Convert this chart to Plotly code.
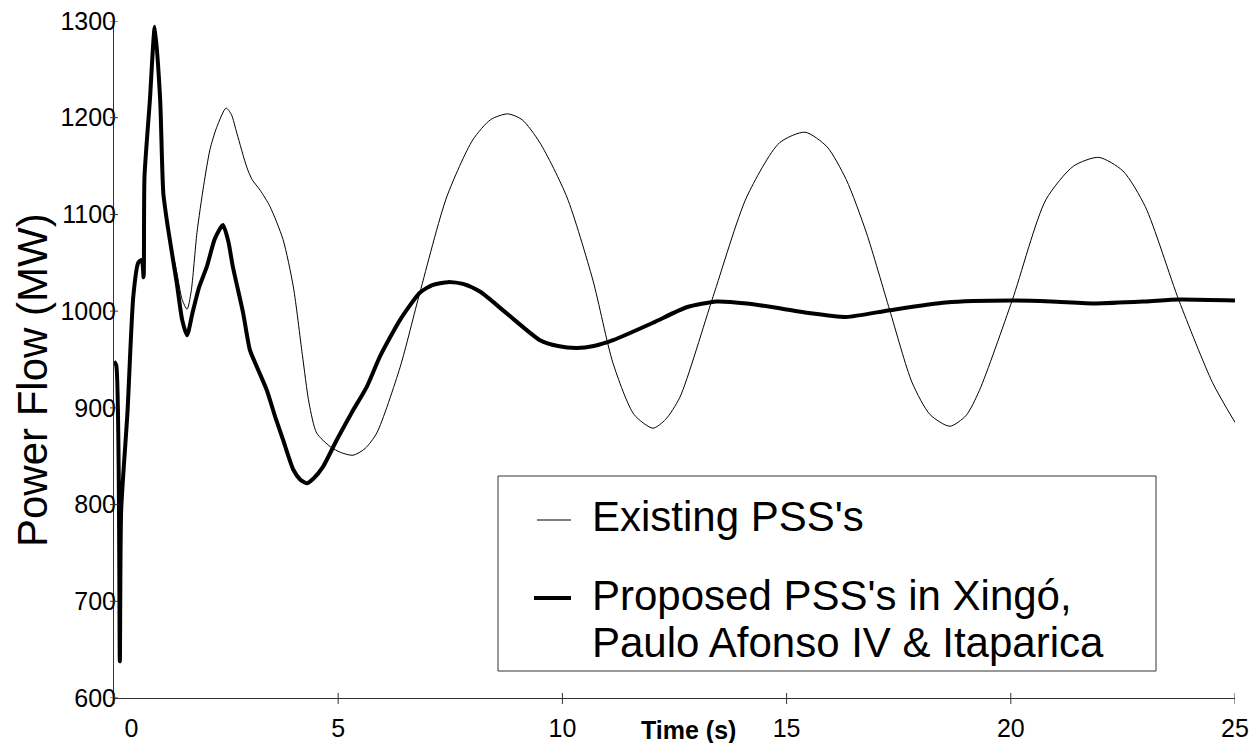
import plotly.graph_objects as go

# ---------------- data ----------------
series_names = ["Existing PSS's", "Proposed PSS's in Xingó,<br>Paulo Afonso IV & Itaparica"]

t_existing = [0.00, 0.05, 0.13, 0.16, 0.30, 0.43, 0.54, 0.62, 0.66, 0.68, 0.80, 0.91, 1.03, 1.10, 1.20,
              1.40, 1.52, 1.63, 1.72, 1.85, 2.00, 2.14, 2.29, 2.50, 2.62, 2.74, 2.96, 3.08, 3.26, 3.48,
              3.77, 4.00, 4.20, 4.35, 4.52, 4.82, 5.05, 5.33, 5.60, 5.86, 6.38, 6.82, 7.42, 8.00, 8.40,
              8.78, 9.10, 9.50, 10.10, 10.68, 11.13, 11.60, 12.02, 12.30, 12.62, 13.36, 14.11, 14.84, 15.41, 15.90,
              16.33, 16.78, 17.30, 17.80, 18.20, 18.64, 19.00, 19.30, 20.03, 20.78, 21.40, 21.96, 22.50, 23.00, 23.75,
              24.50, 25.00]
p_existing = [948, 944, 638, 794, 895, 1015, 1050, 1053, 1035, 1139, 1218, 1294, 1218, 1122, 1087,
              1040, 1012, 1002, 1020, 1081, 1130, 1167, 1190, 1210, 1203, 1184, 1149, 1136, 1125, 1108,
              1074, 1025, 955, 905, 874, 860, 854, 851, 858, 874, 942, 1019, 1118, 1177, 1198,
              1204, 1198, 1174, 1118, 1032, 946, 893, 879, 888, 911, 1015, 1118, 1174, 1185, 1170,
              1136, 1081, 1001, 926, 893, 881, 892, 918, 1011, 1115, 1150, 1159, 1145, 1108, 1011,
              926, 885]

t_proposed = [0.00, 0.05, 0.13, 0.16, 0.30, 0.43, 0.54, 0.62, 0.66, 0.68, 0.80, 0.91, 1.03, 1.10, 1.20,
              1.40, 1.52, 1.63, 1.75, 1.90, 2.07, 2.25, 2.43, 2.55, 2.65, 2.88, 3.03, 3.19, 3.41, 3.60,
              3.77, 4.00, 4.15, 4.30, 4.45, 4.66, 4.97, 5.30, 5.64, 5.93, 6.38, 6.82, 7.10, 7.45, 7.80,
              8.17, 8.75, 9.50, 9.90, 10.32, 10.70, 11.13, 12.02, 12.77, 13.44, 14.11, 14.84, 15.50, 16.33, 17.30,
              18.55, 20.00, 20.90, 21.90, 23.00, 23.75, 25.00]
p_proposed = [948, 944, 638, 794, 895, 1015, 1050, 1053, 1035, 1139, 1218, 1294, 1218, 1122, 1087,
              1029, 991, 975, 998, 1025, 1046, 1075, 1089, 1072, 1046, 998, 960, 942, 918, 890,
              867, 836, 826, 822, 827, 839, 867, 895, 922, 953, 991, 1019, 1027, 1030, 1028,
              1020, 998, 970, 964, 962, 964, 970, 988, 1004, 1010, 1008, 1003, 998, 994, 1001,
              1009, 1011, 1010, 1008, 1010, 1012, 1011]

x_tick_values = [0, 5, 10, 15, 20, 25]
x_tick_labels = ["\u00a0\u00a0\u00a0\u00a0\u00a00", "5", "10", "15", "20", "25"]
y_tick_values = [600, 700, 800, 900, 1000, 1100, 1200, 1300]
y_tick_labels = ["600", "700", "800", "900", "1000", "1100", "1200", "1300"]

x_title = "Time (s)"
y_title = "Power Flow (MW)"
legend_lines = ["Existing PSS's", "Proposed PSS's in Xingó,", "Paulo Afonso IV & Itaparica"]

# ---------------- figure ----------------
FONT = "Liberation Sans, Arial, sans-serif"
AXIS_COLOR = "#333333"
W, H = 1257, 743
PAGE_OFF = 8                      # default body margin of the page
# wanted plot-area edges on screen
SL, SR, ST, SB = 114, 1235, 21, 698
ML = SL - PAGE_OFF
MT = ST - PAGE_OFF
MR = W - (SR - PAGE_OFF)
MB = H - (SB - PAGE_OFF)


def px_x(p):
    return (p - SL) / (SR - SL)


def px_y(p):
    return (SB - p) / (SB - ST)


fig = go.Figure()
fig.add_trace(go.Scatter(x=t_existing, y=p_existing, mode="lines", name=series_names[0],
                         line=dict(color="black", width=1, shape="spline", smoothing=0.7)))
fig.add_trace(go.Scatter(x=t_proposed, y=p_proposed, mode="lines", name=series_names[1],
                         line=dict(color="black", width=4, shape="spline", smoothing=0.6)))

shapes = []
# crossing tick marks
for v in x_tick_values:
    shapes.append(dict(type="line", xref="x", yref="paper", ysizemode="pixel", yanchor=0,
                       x0=v, x1=v, y0=-6, y1=5, line=dict(color=AXIS_COLOR, width=1)))
for v in y_tick_values:
    shapes.append(dict(type="line", yref="y", xref="paper", xsizemode="pixel", xanchor=0,
                       y0=v, y1=v, x0=-4, x1=4, line=dict(color=AXIS_COLOR, width=1)))

# legend box and samples
shapes.append(dict(type="rect", xref="paper", yref="paper",
                   x0=px_x(498), x1=px_x(1156), y0=px_y(671), y1=px_y(476),
                   line=dict(color=AXIS_COLOR, width=1), fillcolor="white", layer="above"))
shapes.append(dict(type="line", xref="paper", yref="paper",
                   x0=px_x(537), x1=px_x(571), y0=px_y(520), y1=px_y(520),
                   line=dict(color="black", width=1)))
shapes.append(dict(type="line", xref="paper", yref="paper",
                   x0=px_x(534), x1=px_x(571), y0=px_y(598), y1=px_y(598),
                   line=dict(color="black", width=4)))

annotations = [
    dict(text=x_title, xref="paper", yref="paper", x=px_x(689), y=px_y(730),
         xanchor="center", yanchor="middle", showarrow=False,
         font=dict(family=FONT, size=25, color="black", weight="bold")),
    dict(text=y_title, xref="paper", yref="paper", x=px_x(32), y=px_y(380),
         xanchor="center", yanchor="middle", showarrow=False, textangle=-90,
         font=dict(family=FONT, size=42, color="black")),
]
for txt, yp in zip(legend_lines, [517, 595, 642]):
    annotations.append(dict(text=txt, xref="paper", yref="paper", x=px_x(590), y=px_y(yp),
                            xanchor="left", yanchor="middle", showarrow=False,
                            font=dict(family=FONT, size=42, color="black")))

fig.update_layout(
    width=W, height=H,
    margin=dict(l=ML, r=MR, t=MT, b=MB, autoexpand=False),
    paper_bgcolor="white", plot_bgcolor="white",
    showlegend=False,
    font=dict(family=FONT, color="black"),
    xaxis=dict(range=[0, 25], tickmode="array", tickvals=x_tick_values, ticktext=x_tick_labels,
               ticks="", showline=True, linecolor=AXIS_COLOR, linewidth=1, showgrid=False,
               zeroline=False, automargin=False, ticklabeloverflow="allow",
               tickfont=dict(size=25, family=FONT, color="black"),
               ticklabelstandoff=8),
    yaxis=dict(range=[600, 1300], tickmode="array", tickvals=y_tick_values, ticktext=y_tick_labels,
               ticks="", showline=True, linecolor=AXIS_COLOR, linewidth=1, showgrid=False,
               zeroline=False, automargin=False, ticklabeloverflow="allow",
               tickfont=dict(size=25, family=FONT, color="black"),
               ticklabelstandoff=-8),
    shapes=shapes,
    annotations=annotations,
)

fig.write_html("out.html")
